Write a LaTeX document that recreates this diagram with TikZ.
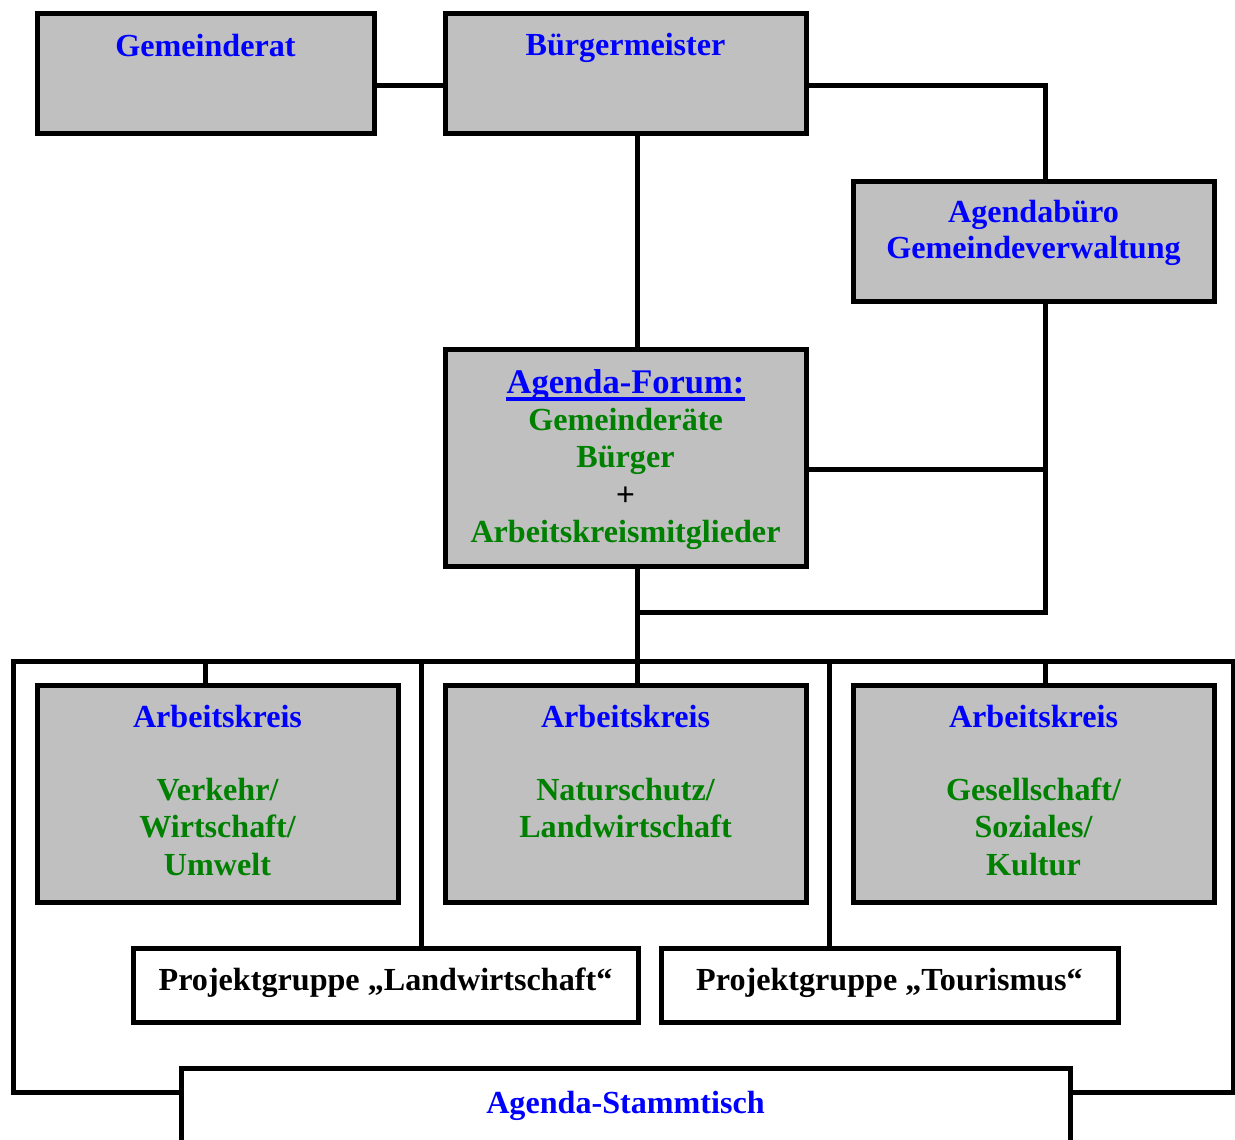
\documentclass[tikz,border=0pt]{standalone}
\usepackage{fontspec}
\setmainfont{Liberation Serif}
\setsansfont{Liberation Sans}
\usetikzlibrary{fit}
\definecolor{tblue}{RGB}{0,0,255}
\definecolor{tgreen}{RGB}{0,128,0}
\definecolor{boxgray}{RGB}{192,192,192}
\tikzset{
  box/.style={draw=black, line width=3.75pt, fill=boxgray, inner sep=0pt, rectangle},
  wbox/.style={draw=black, line width=3.75pt, fill=white, inner sep=0pt, rectangle},
  conn/.style={draw=black, line width=3.75pt},
  txt/.style={font=\fontsize{24.1}{28}\selectfont\bfseries, inner sep=0pt, anchor=base},
  ttl/.style={txt, text=tblue},
  grn/.style={txt, text=tgreen},
  blk/.style={txt, text=black}
}
\begin{document}
\begin{tikzpicture}[x=0.75pt, y=-0.75pt]
\useasboundingbox (0,0) rectangle (1235,1139);
\coordinate (ll) at (13,661);
\coordinate (lr) at (1240,661);
% boxes
\node[box, fit={(37,13) (374,133)}] (gr) {};
\node[box, fit={(445,13) (806,133)}] (bm) {};
\node[box, fit={(853,181) (1214,301)}] (ab) {};
\node[box, fit={(445,349) (806,566)}] (af) {};
\node[box, fit={(37,685) (398,902)}] (ak1) {};
\node[box, fit={(445,685) (806,902)}] (ak2) {};
\node[box, fit={(853,685) (1214,902)}] (ak3) {};
\node[wbox, fit={(133,948) (638,1022)}] (pl) {};
\node[wbox, fit={(661,948) (1118,1022)}] (pt) {};
\node[wbox, fit={(181,1068) (1070,1150)}] (st) {};
% connectors
\coordinate (j1) at (1045,85);
\coordinate (j2) at (1045,469);
\coordinate (j3) at (1045,612);
\coordinate (j4) at (637,612);
\coordinate (j5) at (637,661);
\coordinate (bl) at (13,1092);
\coordinate (br) at (1233,1092);
\draw[conn] (gr.east |- 0,85) -- (bm.west |- 0,85);
\draw[conn] (bm.east |- 0,85) -- (j1) -- (j1 |- ab.north);
\draw[conn] (637,0 |- bm.south) -- (637,0 |- af.north);
\draw[conn] (af.east |- j2) -- (j2);
\draw[conn] (j3 |- ab.south) -- (j3) -- (j4);
\draw[conn] (637,0 |- af.south) -- (j5);
\draw[conn, line cap=rect] (st.west |- bl) -- (bl) -- (ll) -- (lr);
\draw[conn] (st.east |- br) -- (br) -- (1233,661);
\draw[conn] (205,661) -- (205,0 |- ak1.north);
\draw[conn] (637,661) -- (637,0 |- ak2.north);
\draw[conn] (1045,661) -- (1045,0 |- ak3.north);
\draw[conn] (421,661) -- (421,0 |- pl.north);
\draw[conn] (829,661) -- (829,0 |- pt.north);
% texts
\node[ttl] (grt) at (205.5,56) {Gemeinderat};
\node[ttl] (bmt) at (625.5,55) {Bürgermeister};
\node[ttl] (abt1) at (1033.5,222) {Agendabüro};
\node[ttl] (abt2) at (1033.5,258) {Gemeindeverwaltung};
\node[ttl, font=\fontsize{25.9}{30}\selectfont\bfseries] (aft) at (625.5,393) {Agenda-Forum:};
\draw[tblue, line width=2.4pt] ([yshift=-4.5pt]aft.base west) -- ([yshift=-4.5pt]aft.base east);
\node[grn] (afb1) at (625.5,430) {Gemeinderäte};
\node[grn] (afb2) at (625.5,467) {Bürger};
\node[blk, font=\fontsize{24.1}{28}\selectfont\sffamily] (afb3) at (625.5,505) {+};
\node[grn] (afb4) at (625.5,542) {Arbeitskreismitglieder};
\node[ttl] (ak1t) at (217.5,727) {Arbeitskreis};
\node[ttl] (ak2t) at (625.5,727) {Arbeitskreis};
\node[ttl] (ak3t) at (1033.5,727) {Arbeitskreis};
\node[grn] (ak1b1) at (217.5,800) {Verkehr/};
\node[grn] (ak1b2) at (217.5,837) {Wirtschaft/};
\node[grn] (ak1b3) at (217.5,875) {Umwelt};
\node[grn] (ak2b1) at (625.5,800) {Naturschutz/};
\node[grn] (ak2b2) at (625.5,837) {Landwirtschaft};
\node[grn] (ak3b1) at (1033.5,800) {Gesellschaft/};
\node[grn] (ak3b2) at (1033.5,837) {Soziales/};
\node[grn] (ak3b3) at (1033.5,875) {Kultur};
\node[blk] (plt) at (385.5,990) {Projektgruppe „Landwirtschaft“};
\node[blk] (ptt) at (889.5,990) {Projektgruppe „Tourismus“};
\node[ttl] (stt) at (625.5,1113) {Agenda-Stammtisch};
\end{tikzpicture}
\end{document}
